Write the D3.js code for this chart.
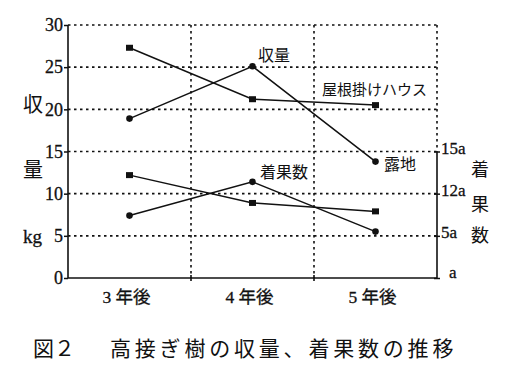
<!DOCTYPE html>
<html>
<head>
<meta charset="utf-8">
<script src="https://cdn.jsdelivr.net/npm/d3@7"></script>
<style>
  body { margin: 0; background: #fff; }
  svg { display: block; }
  .num { font-family: "Liberation Serif", "DejaVu Serif", serif; fill: #111; stroke: #111; stroke-width: 0.3; }
  .jp { font-family: "Noto Sans CJK JP", sans-serif; fill: #111; }
  .grid { stroke: #111; stroke-width: 1.6; stroke-dasharray: 2.5, 3.5; fill: none; }
  .axis-line { stroke: #111; stroke-width: 1.6; fill: none; }
  .series { stroke: #111; stroke-width: 1.5; fill: none; }
</style>
</head>
<body>
<div id="chart"></div>
<script>
// data
var years = ["3年後", "4年後", "5年後"];
var yieldRoof = [27.3, 21.2, 20.5];   // 収量 屋根掛けハウス (kg)
var yieldOpen = [18.9, 25.1, 13.8];   // 収量 露地
var fruitRoof = [12.2, 8.9, 7.9];     // 着果数 屋根掛けハウス
var fruitOpen = [7.4, 11.4, 5.5];     // 着果数 露地
var leftTicks = [0, 5, 10, 15, 20, 25, 30];
var rightTicks = [0, 5, 10, 15];
var rightTickLabels = ["a", "5a", "12a", "15a"];

var W = 512, H = 379;
var margin = {top: 25, right: 75, bottom: 101, left: 68};
var width = W - margin.left - margin.right,
    height = H - margin.top - margin.bottom;

var svg = d3.select("#chart").append("svg")
    .attr("width", W)
    .attr("height", H);

var g = svg.append("g")
    .attr("transform", "translate(" + margin.left + "," + margin.top + ")");

var x = d3.scaleBand().domain(years).range([0, width]);
var y = d3.scaleLinear().domain([0, 30]).range([height, 0]);
var yRight = d3.scaleLinear().domain([0, 30]).range([height, 0]);

function cx(i) { return x(years[i]) + x.bandwidth() / 2; }

// horizontal dotted grid
g.selectAll(".hgrid")
    .data(leftTicks.filter(function(d) { return d > 0; }))
    .enter().append("line")
        .classed("grid", true)
        .attr("x1", 0)
        .attr("x2", width)
        .attr("y1", function(d) { return y(d); })
        .attr("y2", function(d) { return y(d); });

// vertical dotted grid at band boundaries
g.selectAll(".vgrid")
    .data(years.slice(1))
    .enter().append("line")
        .classed("grid", true)
        .attr("x1", function(d) { return x(d); })
        .attr("x2", function(d) { return x(d); })
        .attr("y1", 0)
        .attr("y2", height);

// right edge: dotted above 15, solid below
g.append("line").classed("grid", true)
    .attr("x1", width).attr("x2", width)
    .attr("y1", 0).attr("y2", yRight(15));

// left axis
var leftAxis = g.append("g")
    .call(d3.axisLeft(y).tickValues(leftTicks).tickSize(4).tickPadding(1));
leftAxis.select(".domain").remove();
leftAxis.selectAll("line").attr("stroke", "#111").attr("stroke-width", 1.5);
leftAxis.selectAll("text")
    .attr("class", "num")
    .style("font-size", "18px");
g.append("line").classed("axis-line", true)
    .attr("x1", 0).attr("x2", 0).attr("y1", 0).attr("y2", height);

// right axis (ticks cross the line)
var rightAxis = g.append("g")
    .attr("transform", "translate(" + width + ",0)")
    .call(d3.axisRight(yRight).tickValues(rightTicks).tickSize(3).tickPadding(1)
        .tickFormat(function(d, i) { return rightTickLabels[i]; }));
rightAxis.select(".domain").remove();
rightAxis.selectAll("line").attr("x1", -3).attr("stroke", "#111").attr("stroke-width", 1.5);
rightAxis.selectAll("text")
    .attr("class", "num")
    .style("font-size", "17px")
    .attr("dy", "0.1em");
rightAxis.selectAll(".tick").filter(function(d) { return d === 0; })
    .select("text").attr("x", 12).attr("dy", "-0.05em");
g.append("line").classed("axis-line", true)
    .attr("x1", width).attr("x2", width)
    .attr("y1", yRight(15)).attr("y2", height);

// bottom axis
var bottomAxis = g.append("g")
    .attr("transform", "translate(0," + height + ")")
    .call(d3.axisBottom(x).tickSize(0).tickPadding(10)
        .tickFormat(function(d) { return d.replace("年", " 年"); }));
bottomAxis.select(".domain").remove();
bottomAxis.selectAll("text")
    .attr("class", "num")
    .style("font-family", "'Liberation Serif', 'Noto Sans CJK JP', serif")
    .style("font-size", "17.5px")
    .attr("x", -3)
    .attr("dy", "0.85em");
g.append("line").classed("axis-line", true)
    .attr("x1", 0).attr("x2", width).attr("y1", height).attr("y2", height);
g.selectAll(".xtick")
    .data(years.slice(1))
    .enter().append("line")
        .classed("axis-line", true)
        .attr("x1", function(d) { return x(d); })
        .attr("x2", function(d) { return x(d); })
        .attr("y1", height - 3)
        .attr("y2", height + 3);

// series
var series = [
    {values: yieldRoof, scale: y, shape: "square"},
    {values: yieldOpen, scale: y, shape: "circle"},
    {values: fruitRoof, scale: yRight, shape: "square"},
    {values: fruitOpen, scale: yRight, shape: "circle"}
];

series.forEach(function(s) {
    var line = d3.line()
        .x(function(d, i) { return cx(i); })
        .y(function(d) { return s.scale(d); });
    g.append("path").classed("series", true).attr("d", line(s.values));

    if (s.shape === "square") {
        g.selectAll(null).data(s.values).enter().append("rect")
            .attr("x", function(d, i) { return cx(i) - 3.5; })
            .attr("y", function(d) { return s.scale(d) - 3; })
            .attr("width", 7)
            .attr("height", 6)
            .attr("fill", "#111");
    } else {
        g.selectAll(null).data(s.values).enter().append("circle")
            .attr("cx", function(d, i) { return cx(i); })
            .attr("cy", function(d) { return s.scale(d); })
            .attr("r", 3.3)
            .attr("fill", "#111");
    }
});

// in-plot labels
function label(txt, px, py, size) {
    svg.append("text").attr("class", "jp")
        .attr("x", px).attr("y", py)
        .style("font-size", size + "px")
        .text(txt);
}
label("収量", 258, 61, 16);
label("屋根掛けハウス", 322, 95, 15);
label("露地", 384, 170, 16);
label("着果数", 260, 178, 16);

// axis titles
label("収", 23, 112, 20);
label("量", 23, 177, 20);
svg.append("text").attr("class", "num")
    .attr("x", 23).attr("y", 243)
    .style("font-size", "19px")
    .text("kg");
label("着", 471, 176, 18);
label("果", 471, 211, 18);
label("数", 471, 242, 18);

// caption
label("図２", 33, 356, 21);
svg.append("text").attr("class", "jp")
    .attr("x", 110).attr("y", 356)
    .style("font-size", "21px")
    .style("letter-spacing", "3.8px")
    .text("高接ぎ樹の収量、着果数の推移");
</script>
</body>
</html>
